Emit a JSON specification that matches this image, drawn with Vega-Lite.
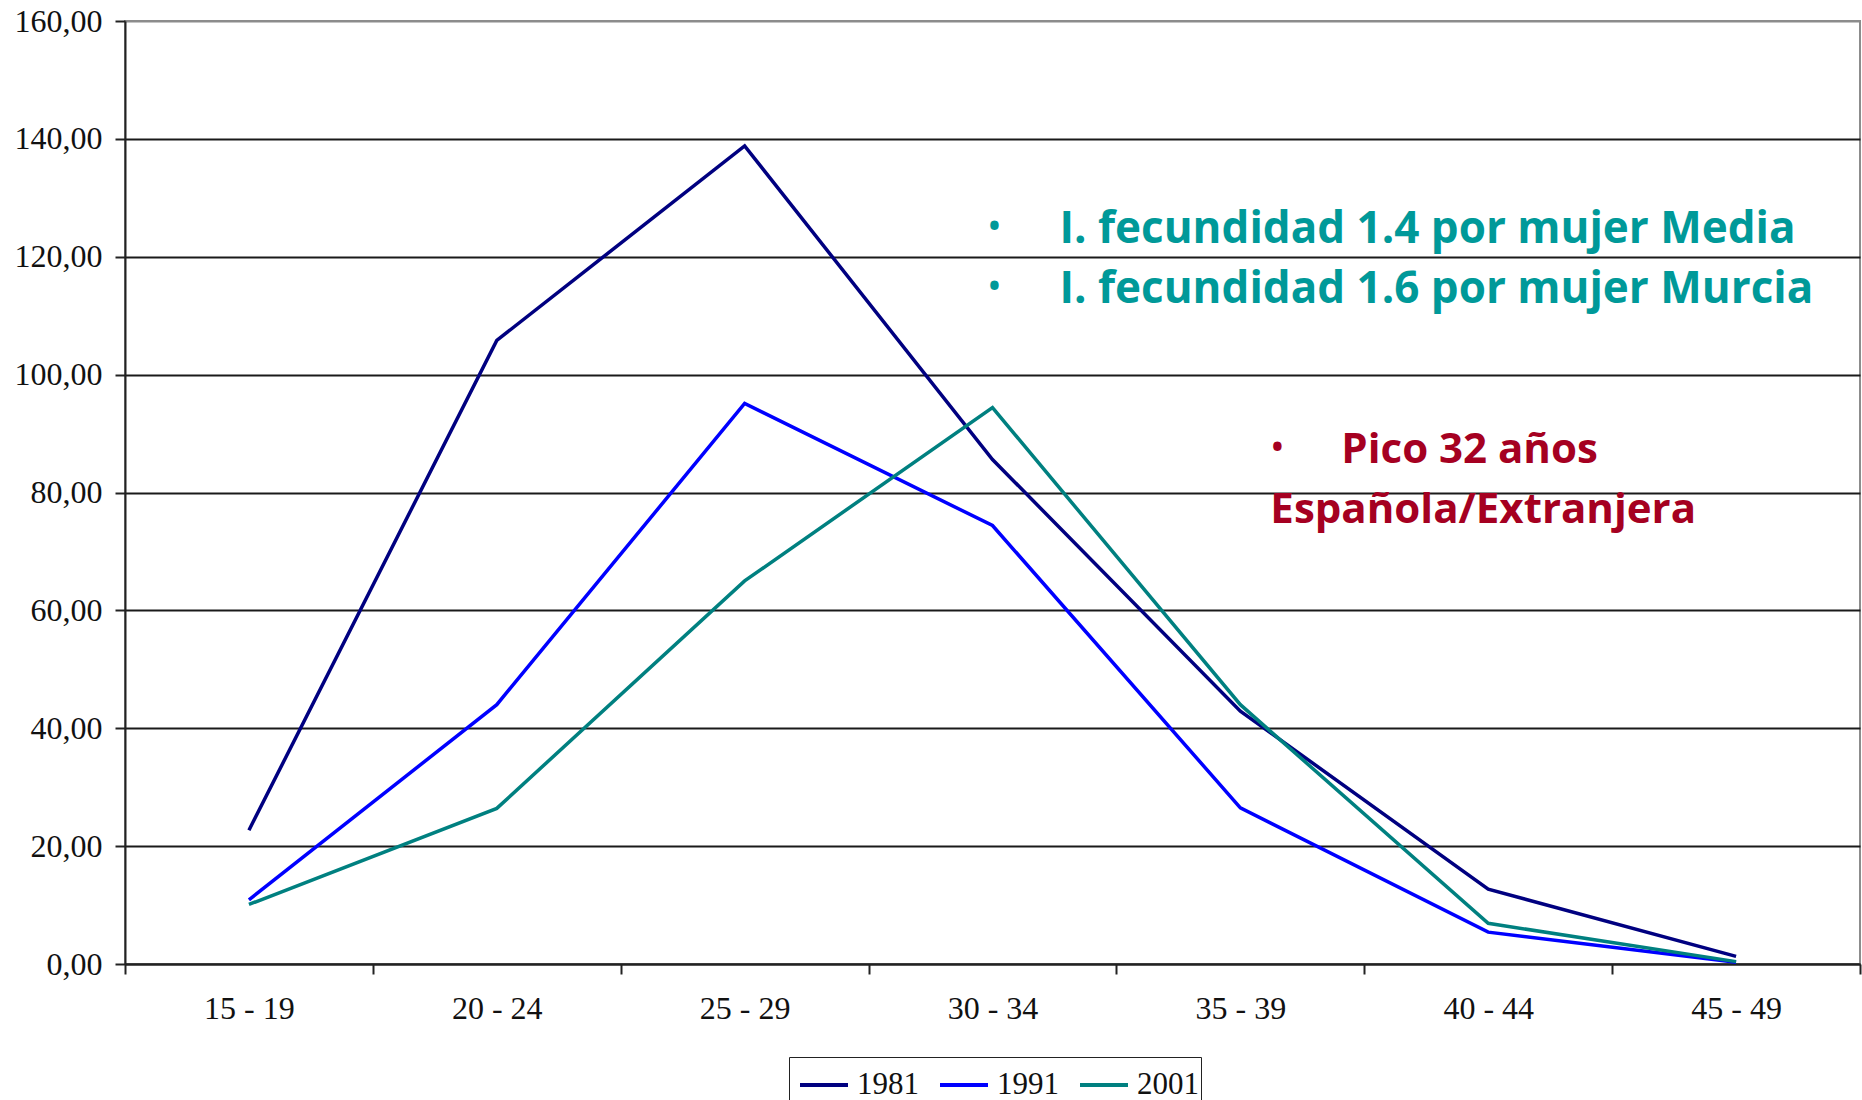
{
  "$schema": "https://vega.github.io/schema/vega-lite/v6.json",
  "width": 1735,
  "height": 943,
  "autosize": {"type": "none"},
  "padding": {"left": 125, "top": 21, "right": 2, "bottom": 136},
  "background": "white",
  "config": {
    "view": {"stroke": "#8c8c8c", "strokeWidth": 2},
    "font": "Liberation Serif"
  },
  "datasets": {
    "tasas": [
      {"edad": "15 - 19", "anio": "1981", "valor": 22.7},
      {"edad": "20 - 24", "anio": "1981", "valor": 105.8},
      {"edad": "25 - 29", "anio": "1981", "valor": 138.8},
      {"edad": "30 - 34", "anio": "1981", "valor": 85.6},
      {"edad": "35 - 39", "anio": "1981", "valor": 42.9},
      {"edad": "40 - 44", "anio": "1981", "valor": 12.7},
      {"edad": "45 - 49", "anio": "1981", "valor": 1.3},
      {"edad": "15 - 19", "anio": "1991", "valor": 10.9},
      {"edad": "20 - 24", "anio": "1991", "valor": 44.0},
      {"edad": "25 - 29", "anio": "1991", "valor": 95.1},
      {"edad": "30 - 34", "anio": "1991", "valor": 74.4},
      {"edad": "35 - 39", "anio": "1991", "valor": 26.5},
      {"edad": "40 - 44", "anio": "1991", "valor": 5.4},
      {"edad": "45 - 49", "anio": "1991", "valor": 0.3},
      {"edad": "15 - 19", "anio": "2001", "valor": 10.1},
      {"edad": "20 - 24", "anio": "2001", "valor": 26.4},
      {"edad": "25 - 29", "anio": "2001", "valor": 65.0},
      {"edad": "30 - 34", "anio": "2001", "valor": 94.4},
      {"edad": "35 - 39", "anio": "2001", "valor": 44.0},
      {"edad": "40 - 44", "anio": "2001", "valor": 6.9},
      {"edad": "45 - 49", "anio": "2001", "valor": 0.4}
    ],
    "uno": [{}]
  },
  "layer": [
    {
      "data": {"name": "tasas"},
      "mark": {"type": "line", "strokeWidth": 3.5},
      "encoding": {
        "x": {
          "field": "edad",
          "type": "ordinal",
          "sort": null,
          "scale": {"type": "band", "paddingInner": 0, "paddingOuter": 0},
          "axis": {
            "title": null,
            "labelAngle": 0,
            "labelFont": "Liberation Serif",
            "labelFontSize": 32,
            "labelColor": "#111",
            "labelPadding": 19,
            "domainColor": "#222",
            "domainWidth": 2,
            "tickColor": "#222",
            "tickWidth": 2,
            "tickSize": 10,
            "tickBand": "extent",
            "grid": false
          }
        },
        "y": {
          "field": "valor",
          "type": "quantitative",
          "scale": {"domain": [0, 160], "nice": false, "zero": true},
          "axis": {
            "title": null,
            "values": [0, 20, 40, 60, 80, 100, 120, 140, 160],
            "labelExpr": "replace(format(datum.value, '.2f'), '.', ',')",
            "labelFont": "Liberation Serif",
            "labelFontSize": 32,
            "labelColor": "#111",
            "labelPadding": 13,
            "domainColor": "#222",
            "domainWidth": 2,
            "tickColor": "#222",
            "tickWidth": 2,
            "tickSize": 10,
            "grid": true,
            "gridColor": {"condition": {"test": "datum.value === 160", "value": "#8c8c8c"}, "value": "#1a1a1a"},
            "gridWidth": 2
          }
        },
        "color": {
          "field": "anio",
          "type": "nominal",
          "scale": {"domain": ["1981", "1991", "2001"], "range": ["#000080", "#0000ff", "#008080"]},
          "legend": {
            "title": null,
            "orient": "none",
            "legendX": 664,
            "legendY": 1036,
            "direction": "horizontal",
            "columns": 3,
            "symbolType": "stroke",
            "symbolSize": 2304,
            "symbolStrokeWidth": 4,
            "symbolOffset": 7,
            "labelFont": "Liberation Serif",
            "labelFontSize": 31,
            "labelColor": "#111",
            "labelOffset": 7,
            "columnPadding": 12,
            "padding": 2,
            "strokeColor": "#222",
            "fillColor": "white"
          }
        }
      }
    },
    {
      "data": {"name": "uno"},
      "mark": {"type": "text", "text": "•", "font": "Open Sans", "fontWeight": "bold", "fontSize": 30, "color": "#009999", "align": "center", "baseline": "middle", "dx": 2},
      "encoding": {
        "x": {"datum": "30 - 34", "type": "ordinal"},
        "y": {"datum": 125.0, "type": "quantitative"}
      }
    },
    {
      "data": {"name": "uno"},
      "mark": {"type": "text", "text": "•", "font": "Open Sans", "fontWeight": "bold", "fontSize": 30, "color": "#009999", "align": "center", "baseline": "middle", "dx": 2},
      "encoding": {
        "x": {"datum": "30 - 34", "type": "ordinal"},
        "y": {"datum": 114.9, "type": "quantitative"}
      }
    },
    {
      "data": {"name": "uno"},
      "mark": {"type": "text", "text": "I. fecundidad 1.4 por mujer Media", "font": "Comic Sans MS, Open Sans", "fontWeight": "bold", "fontSize": 44, "color": "#009999", "align": "left", "baseline": "alphabetic", "dx": 67},
      "encoding": {
        "x": {"datum": "30 - 34", "type": "ordinal"},
        "y": {"datum": 122.3, "type": "quantitative"}
      }
    },
    {
      "data": {"name": "uno"},
      "mark": {"type": "text", "text": "I. fecundidad 1.6 por mujer Murcia", "font": "Comic Sans MS, Open Sans", "fontWeight": "bold", "fontSize": 44, "color": "#009999", "align": "left", "baseline": "alphabetic", "dx": 67},
      "encoding": {
        "x": {"datum": "30 - 34", "type": "ordinal"},
        "y": {"datum": 112.2, "type": "quantitative"}
      }
    },
    {
      "data": {"name": "uno"},
      "mark": {"type": "text", "text": "•", "font": "Open Sans", "fontWeight": "bold", "fontSize": 30, "color": "#a50021", "align": "center", "baseline": "middle", "dx": 37},
      "encoding": {
        "x": {"datum": "35 - 39", "type": "ordinal"},
        "y": {"datum": 87.5, "type": "quantitative"}
      }
    },
    {
      "data": {"name": "uno"},
      "mark": {"type": "text", "text": "Pico 32 años", "font": "Comic Sans MS, Open Sans", "fontWeight": "bold", "fontSize": 42, "color": "#a50021", "align": "left", "baseline": "alphabetic", "dx": 101},
      "encoding": {
        "x": {"datum": "35 - 39", "type": "ordinal"},
        "y": {"datum": 85.0, "type": "quantitative"}
      }
    },
    {
      "data": {"name": "uno"},
      "mark": {"type": "text", "text": "Española/Extranjera", "font": "Comic Sans MS, Open Sans", "fontWeight": "bold", "fontSize": 42, "color": "#a50021", "align": "left", "baseline": "alphabetic", "dx": 30},
      "encoding": {
        "x": {"datum": "35 - 39", "type": "ordinal"},
        "y": {"datum": 74.8, "type": "quantitative"}
      }
    }
  ]
}
